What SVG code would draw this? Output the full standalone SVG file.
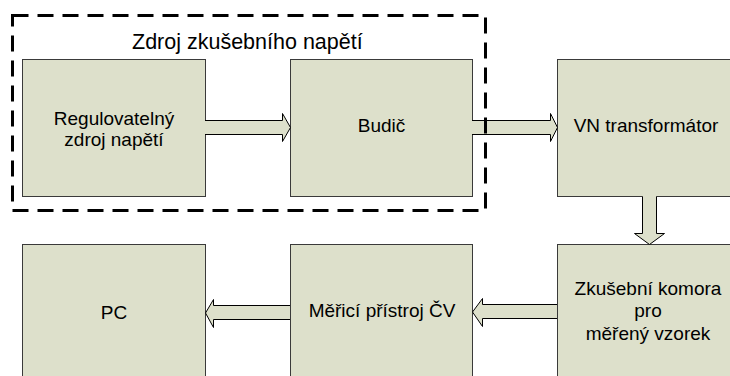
<svg xmlns="http://www.w3.org/2000/svg" width="730" height="376" viewBox="0 0 730 376">
<style>
.box{fill:#dde0cb;stroke:#3a3a3a;stroke-width:1}
.lbl{font-family:"Liberation Sans",Arial,sans-serif;font-size:19px;fill:#000;text-anchor:middle}
.arr{fill:#dde0cb;stroke:none}
.edge{fill:none;stroke:#000;stroke-width:1}
.title{font-family:"Liberation Sans",Arial,sans-serif;font-size:21.5px;fill:#000}
</style>
<rect width="730" height="376" fill="#fff"/>
<g id="n1"><rect class="box" x="22.5" y="59.5" width="183" height="137"/><text class="lbl" x="114" y="125">Regulovatelný</text><text class="lbl" x="114" y="146">zdroj napětí</text></g>
<g id="n2"><rect class="box" x="290.5" y="59.5" width="182" height="137"/><text class="lbl" x="381.5" y="132">Budič</text></g>
<g id="n3"><rect class="box" x="557.5" y="59.5" width="180" height="137"/><text class="lbl" x="646" y="132">VN transformátor</text></g>
<g id="n4"><rect class="box" x="22.5" y="244.5" width="183" height="140"/><text class="lbl" x="114" y="319">PC</text></g>
<g id="n5"><rect class="box" x="290.5" y="244.5" width="182" height="140"/><text class="lbl" x="382" y="317">Měřicí přístroj ČV</text></g>
<g id="n6"><rect class="box" x="557.5" y="244.5" width="180" height="140"/><text class="lbl" x="648" y="295">Zkušební komora</text><text class="lbl" x="648" y="317">pro</text><text class="lbl" x="648" y="340">měřený vzorek</text></g>
<g id="connectors">
<path class="arr" d="M205 120.5H282.5V113.5L290.5 127.5L282.5 141.5V134.5H205Z"/>
<path class="edge" d="M205 120.5H282.5V113.5L290.5 127.5L282.5 141.5V134.5H205"/>
<path class="arr" d="M472 120.5H550.5V113.5L557.5 127.5L550.5 141.5V134.5H472Z"/>
<path class="edge" d="M472 120.5H550.5V113.5L557.5 127.5L550.5 141.5V134.5H472"/>
<path class="arr" d="M642.5 196V233.5H634.5L649.5 244.5L664.5 233.5H656.5V196Z"/>
<path class="edge" d="M642.5 196.5V233.5H634.5L649.5 244.5L664.5 233.5H656.5V196.5"/>
<path class="arr" d="M557 304.5H482.5V298.5L472.5 312L482.5 326.5V318.5H557Z"/>
<path class="edge" d="M557 304.5H482.5V298.5L472.5 312L482.5 326.5V318.5H557"/>
<path class="arr" d="M290 305.5H213.5V299.5L205.5 313L213.5 327.5V319.5H290Z"/>
<path class="edge" d="M290 305.5H213.5V299.5L205.5 313L213.5 327.5V319.5H290"/>
</g>
<g id="group">
<rect x="12.5" y="15.5" width="473" height="195" fill="none" stroke="#000" stroke-width="3" stroke-dasharray="16 9"/>
<text class="title" x="132" y="49">Zdroj zkušebního napětí</text>
</g>
</svg>
